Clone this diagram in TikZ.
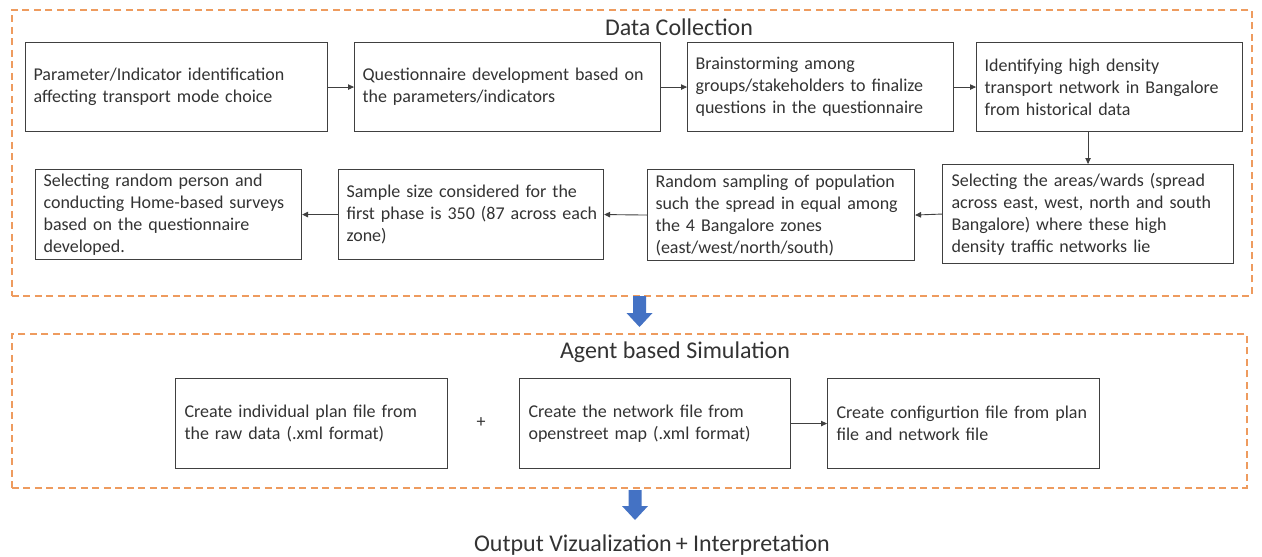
\documentclass[tikz,border=0pt]{standalone}
\usepackage{fontspec}
\setmainfont{Carlito}
\usetikzlibrary{arrows.meta}
\definecolor{txt}{HTML}{333333}
\definecolor{edge}{HTML}{404040}
\definecolor{orng}{HTML}{EE9B5E}
\definecolor{blu}{HTML}{4472C4}
\newcommand{\myblockarrow}[3]{% x, ytop, ybottom
  \fill[blu] (#1-6.5,#2) -- (#1+6.5,#2) -- (#1+6.5,#3-14) -- (#1+13,#3-14)
    -- (#1,#3) -- (#1-13,#3-14) -- (#1-6.5,#3-14) -- cycle;}
\begin{document}
\begin{tikzpicture}[x=1pt,y=-1pt,
  stepbox/.style={draw=edge,line width=1.1pt,text=txt,align=left,anchor=north west,
    inner xsep=8pt,inner ysep=0pt,font=\fontsize{18}{22}\selectfont},
  container/.style={draw=orng,line width=1.6pt,dash pattern=on 7pt off 4.5pt,
    anchor=north west,inner sep=0pt},
  titletext/.style={text=txt,font=\fontsize{24}{28}\selectfont,inner sep=0pt},
  conn/.style={draw=edge,line width=0.9pt,-{Triangle[length=6pt,width=5.5pt]}}]
\useasboundingbox (0,0) rectangle (1262,557);
\fill[white] (0,0) rectangle (1262,557);

% containers
\node[container,minimum width=1240pt,minimum height=286pt] (dc) at (11,9) {};
\node[titletext] (dctitle) at (679,27) {Data Collection};
\node[container,minimum width=1235pt,minimum height=154pt] (abs) at (11,333) {};
\node[titletext] (abstitle) at (675,352) {Agent based Simulation};
\node[titletext] (out) at (652,545) {Output Vizualization\,+ Interpretation};

% Data collection boxes
\node[stepbox,text width=286pt,minimum height=89pt] (b1) at (25,42)
  {Parameter/Indicator identification\\affecting transport mode choice};
\node[stepbox,text width=290pt,minimum height=89pt] (b2) at (354,42)
  {Questionnaire development based on\\the parameters/indicators};
\node[stepbox,text width=250pt,minimum height=89pt] (b3) at (687,42)
  {Brainstorming among\\groups/stakeholders to finalize\\questions in the questionnaire};
\node[stepbox,text width=250pt,minimum height=89pt] (b4) at (976,42)
  {Identifying high density\\transport network in Bangalore\\from historical data};
\node[stepbox,text width=273pt,minimum height=99pt,inner xsep=9pt] (b5) at (942,164)
  {Selecting the areas/wards (spread\\across east, west, north and south\\Bangalore) where these high\\density traffic networks lie};
\node[stepbox,text width=251pt,minimum height=91pt] (b6) at (647,169)
  {Random sampling of population\\such the spread in equal among\\the 4 Bangalore zones\\(east/west/north/south)};
\node[stepbox,text width=249pt,minimum height=90pt] (b7) at (338,169)
  {Sample size considered for the\\\mbox{first phase is 350 (87 across each}\\zone)};
\node[stepbox,text width=250pt,minimum height=90pt] (b8) at (35,169)
  {Selecting random person and\\conducting Home-based surveys\\based on the questionnaire\\developed.};

% Agent based boxes
\node[stepbox,text width=254pt,minimum height=90pt,inner xsep=9pt] (sa) at (175,378)
  {Create individual plan file from\\the raw data (.xml format)};
\node[text=txt,font=\fontsize{18}{22}\selectfont,inner sep=0pt] (plus) at (481,423) {+};
\node[stepbox,text width=253pt,minimum height=90pt,inner xsep=9pt] (sb) at (519,378)
  {Create the network file from\\openstreet map (.xml format)};
\node[stepbox,text width=254pt,minimum height=90pt,inner xsep=9pt] (sc) at (827,378)
  {Create configurtion file from plan\\file and network file};

% connectors
\draw[conn] (b1.east) -- (b2.west);
\draw[conn] (b2.east) -- (b3.west);
\draw[conn] (b3.east) -- (b4.west);
\draw[conn] (b4.south -| b5.north) -- (b5.north);
\draw[conn] (b5.west) -- (b6.east);
\draw[conn] (b6.west) -- (b7.east);
\draw[conn] (b7.west) -- (b8.east);
\draw[conn] (sb.east) -- (sc.west);

% block arrows
\myblockarrow{639.5}{296}{327}
\myblockarrow{635}{490}{520}
\end{tikzpicture}
\end{document}
